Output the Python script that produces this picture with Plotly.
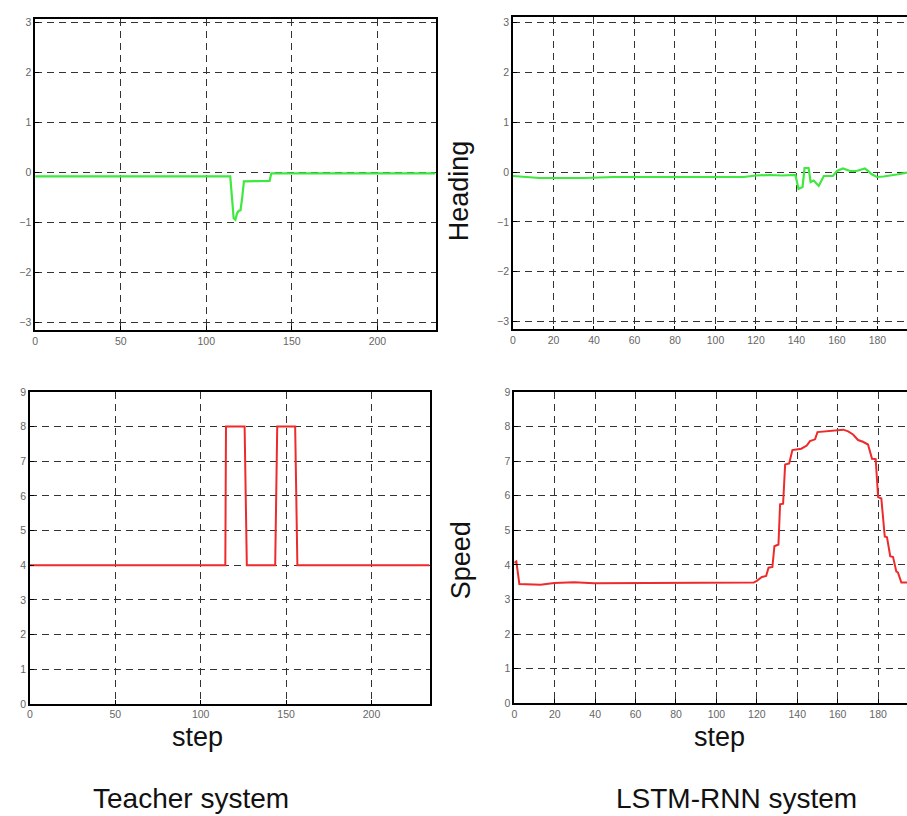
import plotly.graph_objects as go

# ---------------- data ----------------
teacher_heading_step = [0, 114, 115, 116, 117, 118, 119, 120, 121, 122, 137, 138, 234]
teacher_heading = [-0.08, -0.08, -0.5, -0.92, -0.95, -0.82, -0.77, -0.76, -0.5, -0.18, -0.17, -0.02, -0.02]

lstm_heading_step = [0, 5, 13, 20, 35, 50, 80, 114, 120, 127, 133, 139.5, 141, 143, 144, 146, 147,
                     148.5, 151, 152.6, 153.5, 158, 160, 163, 166.5, 169.7, 173.8, 175.5, 177,
                     179.7, 183, 189.6, 194.6]
lstm_heading = [-0.08, -0.1, -0.12, -0.12, -0.12, -0.1, -0.1, -0.1, -0.07, -0.06, -0.07, -0.06, -0.34,
                -0.3, 0.08, 0.08, -0.2, -0.17, -0.28, -0.16, -0.08, -0.08, 0.02, 0.07, 0.02, 0.02,
                0.07, 0.02, -0.04, -0.1, -0.09, -0.05, -0.01]

teacher_speed_step = [0, 114.4, 114.8, 125.7, 127, 143.6, 144.8, 155.3, 156.6, 234]
teacher_speed = [4, 4, 8, 8, 4, 4, 8, 8, 4, 4]

lstm_speed_step = [0, 1, 2.5, 13, 19.7, 29.6, 39.5, 62.5, 100, 118.4, 120, 122.5, 124.6, 125.8, 127.7,
                   128.7, 130.7, 131.5, 133, 134, 136, 137.6, 142, 144.7, 146.3, 148.8, 150, 154.5,
                   159.5, 162.7, 165.2, 167.6, 170.1, 172.5, 175, 177, 178.8, 180, 181.6, 183.3,
                   184.4, 186, 187.4, 189, 189.8, 191.5, 194.3]
lstm_speed = [4.06, 4.1, 3.45, 3.43, 3.48, 3.5, 3.47, 3.47, 3.48, 3.49, 3.54, 3.65, 3.68, 3.92, 3.94,
              4.54, 4.59, 5.75, 5.77, 6.9, 6.93, 7.32, 7.36, 7.45, 7.58, 7.63, 7.84, 7.86,
              7.89, 7.91, 7.86, 7.77, 7.61, 7.56, 7.48, 7.07, 7.06, 5.96, 5.92, 4.82,
              4.8, 4.25, 4.23, 3.81, 3.78, 3.49, 3.49]

teacher_ticks = [0, 50, 100, 150, 200]
lstm_ticks = [0, 20, 40, 60, 80, 100, 120, 140, 160, 180, 200]
heading_ticks = [-3, -2, -1, 0, 1, 2, 3]
speed_ticks = [0, 1, 2, 3, 4, 5, 6, 7, 8, 9]

# ---------------- figure ----------------
W, H = 907, 816
GREEN = "#3ee83e"
RED = "#ee2a2a"

fig = go.Figure()
fig.add_trace(go.Scatter(x=teacher_heading_step, y=teacher_heading, mode="lines",
                         line=dict(color=GREEN, width=2.2), xaxis="x", yaxis="y", showlegend=False))
fig.add_trace(go.Scatter(x=lstm_heading_step, y=lstm_heading, mode="lines",
                         line=dict(color=GREEN, width=2.2), xaxis="x2", yaxis="y2", showlegend=False))
fig.add_trace(go.Scatter(x=teacher_speed_step, y=teacher_speed, mode="lines",
                         line=dict(color=RED, width=2), xaxis="x3", yaxis="y3", showlegend=False))
fig.add_trace(go.Scatter(x=lstm_speed_step, y=lstm_speed, mode="lines",
                         line=dict(color=RED, width=2), xaxis="x4", yaxis="y4", showlegend=False))

tickfont = dict(family="Liberation Sans, Arial, sans-serif", size=10.5, color="#666666")
grid = dict(showgrid=True, gridcolor="#333333", gridwidth=1.2, griddash="7px,5px",
            zeroline=False, showline=True, linecolor="black", linewidth=1.6,
            ticks="inside", ticklen=4, tickcolor="black", tickfont=tickfont)


def px_x(p):
    return p / W


def px_y(p):
    return 1 - p / H


fig.update_layout(
    width=W, height=H, margin=dict(l=0, r=0, t=0, b=0),
    paper_bgcolor="white", plot_bgcolor="white",
    xaxis=dict(domain=[px_x(32.3), px_x(434)], range=[0, 234], tickvals=teacher_ticks,
               anchor="y", mirror=True, **grid),
    yaxis=dict(domain=[px_y(329), px_y(12.7)], range=[-3.16, 3.08], tickvals=heading_ticks,
               anchor="x", mirror=True, **grid),
    xaxis2=dict(domain=[px_x(511.7), 1], range=[0, 194.6], tickvals=lstm_ticks,
                anchor="y2", mirror=True, **grid),
    yaxis2=dict(domain=[px_y(328.3), px_y(10.7)], range=[-3.16, 3.12], tickvals=heading_ticks,
                anchor="x2", mirror=False, **grid),
    xaxis3=dict(domain=[px_x(27), px_x(428)], range=[0, 234], tickvals=teacher_ticks,
                anchor="y3", mirror=True, **grid),
    yaxis3=dict(domain=[px_y(708.3), px_y(391.7)], range=[0, 9], tickvals=speed_ticks,
                anchor="x3", mirror=True, **grid),
    xaxis4=dict(domain=[px_x(513), 1], range=[0, 194.3], tickvals=lstm_ticks,
                anchor="y4", mirror=True, **grid),
    yaxis4=dict(domain=[px_y(707.7), px_y(391.7)], range=[0, 9], tickvals=speed_ticks,
                anchor="x4", mirror=False, **grid),
)

labfont = dict(family="Liberation Sans, Arial, sans-serif", size=27, color="#111111")
annots = [
    dict(text="Heading", x=px_x(457.5), y=px_y(187), textangle=-90),
    dict(text="Speed", x=px_x(459), y=px_y(562), textangle=-90),
    dict(text="step", x=px_x(195), y=px_y(742)),
    dict(text="step", x=px_x(719), y=px_y(742)),
    dict(text="Teacher system", x=px_x(189), y=px_y(804), font_size=28),
    dict(text="LSTM-RNN system", x=px_x(736), y=px_y(804), font_size=28),
]
for a in annots:
    fs = a.pop("font_size", 27)
    fig.add_annotation(xref="paper", yref="paper", showarrow=False, font=dict(labfont, size=fs),
                       xanchor="center", yanchor="middle", **a)

fig.write_html(
    "out.html",
    config={"displayModeBar": False},
    post_script="document.body.style.margin='0';document.body.style.overflow='hidden';",
)
